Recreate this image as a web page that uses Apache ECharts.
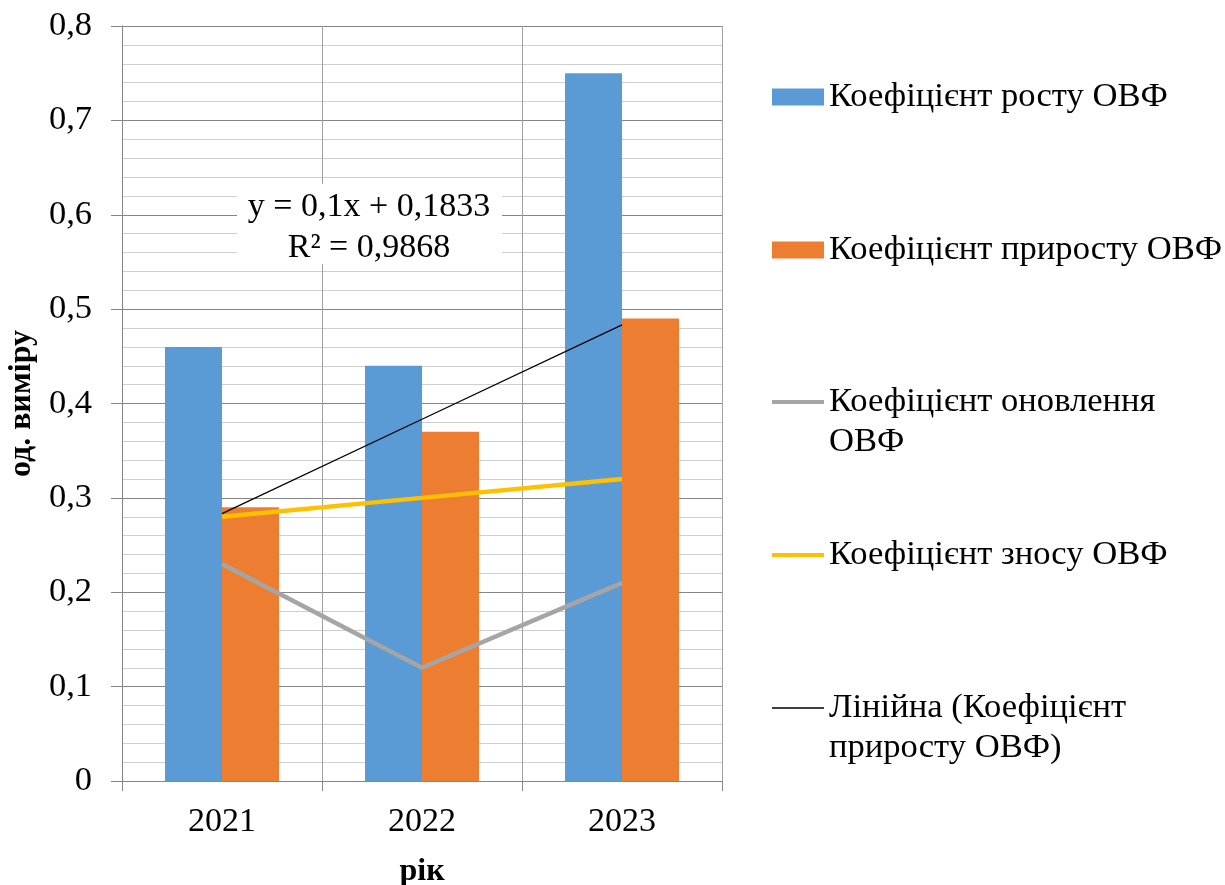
<!DOCTYPE html>
<html>
<head>
<meta charset="utf-8">
<script src="https://cdn.jsdelivr.net/npm/echarts@6/dist/echarts.min.js"></script>
<style>
html,body{margin:0;padding:0;background:#fff;}
#chart{width:1225px;height:885px;}
</style>
</head>
<body>
<div id="chart"></div>
<script>
var years = ['2021', '2022', '2023'];
var growth = [0.46, 0.44, 0.75];          // Коефіцієнт росту ОВФ
var increase = [0.29, 0.37, 0.49];        // Коефіцієнт приросту ОВФ
var renewal = [0.23, 0.12, 0.21];         // Коефіцієнт оновлення ОВФ
var wear = [0.28, 0.30, 0.32];            // Коефіцієнт зносу ОВФ
var trend = [0.2833, 0.3833, 0.4833];     // Лінійна (Коефіцієнт приросту ОВФ)
var yTicks = ['0', '0,1', '0,2', '0,3', '0,4', '0,5', '0,6', '0,7', '0,8'];

var names = ['Коефіцієнт росту ОВФ', 'Коефіцієнт приросту ОВФ', 'Коефіцієнт оновлення ОВФ', 'Коефіцієнт зносу ОВФ', 'Лінійна (Коефіцієнт приросту ОВФ)'];
var legendLabels = ['Коефіцієнт росту ОВФ', 'Коефіцієнт приросту ОВФ', ' \nКоефіцієнт оновлення\nОВФ', 'Коефіцієнт зносу ОВФ', ' \nЛінійна (Коефіцієнт\nприросту ОВФ)'];

var FONT = '"Liberation Serif", "Times New Roman", serif';
var chart = echarts.init(document.getElementById('chart'), null, {renderer: 'canvas'});

function leg(i, top, iconH) {
  return {
    data: [names[i]],
    left: 772, top: top,
    orient: 'vertical',
    padding: 0,
    icon: 'rect',
    itemWidth: 52, itemHeight: iconH, itemGap: 0,
    selectedMode: false,
    formatter: function () { return legendLabels[i]; },
    textStyle: {fontFamily: FONT, fontSize: 34.6, color: '#000', lineHeight: 40}
  };
}

var option = {
  backgroundColor: '#fff',
  animation: false,
  grid: {left: 122, right: 503, top: 26, bottom: 104, containLabel: false, outerBoundsMode: 'none'},
  legend: [
    leg(0, 77, 17),
    leg(1, 230, 17),
    leg(2, 342, 4),
    leg(3, 535, 4),
    leg(4, 648, 1.5)
  ],
  xAxis: {
    type: 'category',
    data: years,
    boundaryGap: true,
    name: 'рік',
    nameLocation: 'middle',
    nameGap: 75,
    nameTextStyle: {fontFamily: FONT, fontSize: 32, fontWeight: 'bold', color: '#000'},
    axisLine: {show: true, lineStyle: {color: '#868686', width: 1}},
    axisTick: {show: true, length: 10, lineStyle: {color: '#868686'}},
    axisLabel: {fontFamily: FONT, fontSize: 34, color: '#000', margin: 24},
    splitLine: {show: true, lineStyle: {color: '#a0a0a0', width: 1}}
  },
  yAxis: {
    type: 'value',
    min: 0, max: 0.8, interval: 0.1,
    name: 'од. виміру',
    nameLocation: 'middle',
    nameGap: 84,
    nameTextStyle: {fontFamily: FONT, fontSize: 32, fontWeight: 'bold', color: '#000'},
    axisLine: {show: true, lineStyle: {color: '#868686', width: 1}},
    axisTick: {show: true, length: 11, lineStyle: {color: '#868686'}},
    axisLabel: {
      fontFamily: FONT, fontSize: 34.5, color: '#000', margin: 30,
      formatter: function (v) { return yTicks[Math.round(v * 10)]; }
    },
    splitLine: {show: true, lineStyle: {color: '#868686', width: 1}},
    minorTick: {show: false, splitNumber: 5},
    minorSplitLine: {show: true, lineStyle: {color: '#cfcfcf', width: 1}}
  },
  series: [
    {name: names[0], type: 'bar', data: growth, itemStyle: {color: '#5B9BD5'}, barGap: '0%', barCategoryGap: '43%', z: 2},
    {name: names[1], type: 'bar', data: increase, itemStyle: {color: '#ED7D31'}, barGap: '0%', barCategoryGap: '43%', z: 2},
    {name: names[2], type: 'line', data: renewal, symbol: 'none', lineStyle: {color: '#A5A5A5', width: 4.5}, itemStyle: {color: '#A5A5A5'}, z: 3},
    {name: names[3], type: 'line', data: wear, symbol: 'none', lineStyle: {color: '#FFC000', width: 4.5}, itemStyle: {color: '#FFC000'}, z: 4},
    {name: names[4], type: 'line', data: trend, symbol: 'none', lineStyle: {color: '#000', width: 1.3}, itemStyle: {color: '#000'}, z: 5}
  ],
  graphic: [
    {
      type: 'rect', left: 237, top: 184, z: 10,
      shape: {width: 265, height: 80},
      style: {fill: '#fff'}
    },
    {
      type: 'text', x: 369, y: 228, z: 11,
      style: {
        text: 'y = 0,1x + 0,1833\nR² = 0,9868',
        align: 'center', verticalAlign: 'middle',
        fontFamily: FONT, fontSize: 34, lineHeight: 41, fill: '#000'
      }
    }
  ]
};
chart.setOption(option);
</script>
</body>
</html>
